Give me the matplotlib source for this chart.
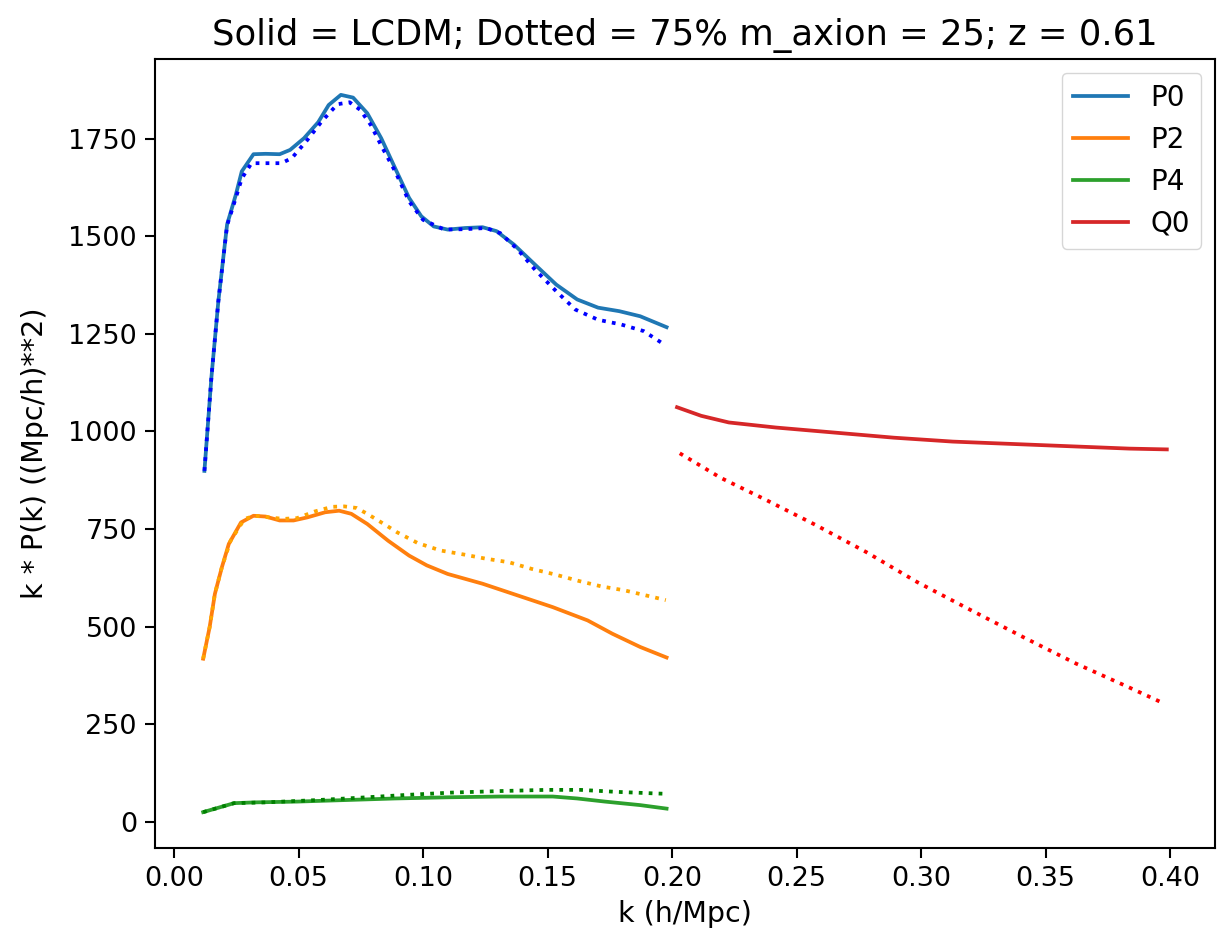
import matplotlib
matplotlib.use("Agg")
import matplotlib.pyplot as plt

title = "Solid = LCDM; Dotted = 75% m_axion = 25; z = 0.61"
xlabel = "k (h/Mpc)"
ylabel = "k * P(k) ((Mpc/h)**2)"

# P0 (LCDM, solid)
k_p0 = [0.0122, 0.0150, 0.0178, 0.0213, 0.0248, 0.0272, 0.0319, 0.0368, 0.0424, 0.0466,
        0.0522, 0.0579, 0.0621, 0.0670, 0.0719, 0.0776, 0.0832, 0.0888, 0.0944, 0.0993,
        0.1043, 0.1099, 0.1169, 0.1239, 0.1295, 0.1366, 0.1450, 0.1535, 0.1619, 0.1703,
        0.1788, 0.1872, 0.1978]
p0 = [899, 1138, 1334, 1530, 1606, 1666, 1710, 1711, 1710, 1721,
      1751, 1792, 1836, 1862, 1855, 1815, 1751, 1674, 1598, 1551,
      1525, 1517, 1521, 1523, 1513, 1478, 1427, 1376, 1338, 1317,
      1308, 1295, 1267]
# P0 (axion, dotted)
k_p0a = [0.0122, 0.0150, 0.0178, 0.0213, 0.0248, 0.0272, 0.0311, 0.0382, 0.0431, 0.0473,
         0.0536, 0.0593, 0.0656, 0.0705, 0.0747, 0.0790, 0.0838, 0.0888, 0.0944, 0.1000,
         0.1085, 0.1169, 0.1253, 0.1310, 0.1380, 0.1450, 0.1535, 0.1612, 0.1703, 0.1795,
         0.1886, 0.1975]
p0a = [899, 1138, 1334, 1528, 1598, 1648, 1687, 1687, 1687, 1700,
       1747, 1794, 1838, 1843, 1824, 1785, 1725, 1666, 1589, 1542,
       1517, 1518, 1521, 1508, 1466, 1414, 1359, 1312, 1286, 1274,
       1257, 1220]

# P2
k_p2 = [0.0117, 0.0143, 0.0164, 0.0192, 0.0220, 0.0269, 0.0319, 0.0368, 0.0424, 0.0480,
        0.0536, 0.0607, 0.0663, 0.0712, 0.0776, 0.0860, 0.0944, 0.1015, 0.1099, 0.1239,
        0.1380, 0.1521, 0.1661, 0.1760, 0.1872, 0.1978]
p2 = [418, 499, 584, 652, 712, 767, 784, 782, 772, 772,
      780, 793, 797, 789, 763, 720, 682, 657, 635, 610,
      580, 550, 516, 482, 448, 421]
k_p2a = [0.0117, 0.0143, 0.0164, 0.0192, 0.0227, 0.0283, 0.0325, 0.0438, 0.0494, 0.0565,
         0.0635, 0.0684, 0.0733, 0.0776, 0.0853, 0.0895, 0.0979, 0.1071, 0.1162, 0.1253,
         0.1345, 0.1436, 0.1528, 0.1626, 0.1717, 0.1809, 0.1949, 0.1975]
p2a = [418, 499, 584, 652, 720, 776, 784, 776, 778, 795,
       807, 808, 804, 789, 759, 742, 714, 695, 685, 674,
       665, 648, 634, 617, 603, 593, 572, 568]

# P4
k_p4 = [0.0117, 0.0171, 0.0241, 0.0325, 0.0494, 0.0691, 0.0888, 0.1099, 0.1310, 0.1521,
        0.1619, 0.1731, 0.1872, 0.1978]
p4 = [25, 35, 48, 50, 52, 56, 60, 63, 65, 65,
      60, 52, 43, 34]
k_p4a = [0.0117, 0.0171, 0.0241, 0.0368, 0.0579, 0.0747, 0.0930, 0.1113, 0.1310, 0.1493,
         0.1633, 0.1774, 0.1928, 0.1975]
p4a = [25, 35, 48, 50, 56, 62, 69, 75, 79, 82,
       82, 77, 73, 72]

# Q0
k_q0 = [0.2020, 0.2117, 0.2228, 0.2417, 0.2654, 0.2891, 0.3127, 0.3364, 0.3600, 0.3837, 0.3987]
q0 = [1062, 1040, 1023, 1010, 997, 984, 974, 968, 962, 956, 954]
k_q0a = [0.2031, 0.2196, 0.2370, 0.2575, 0.2780, 0.2985, 0.3198, 0.3411, 0.3624, 0.3837, 0.3966]
q0a = [944, 881, 827, 761, 691, 614, 543, 473, 405, 344, 306]

fig = plt.figure(figsize=(12.17, 9.41), dpi=100)
ax = fig.add_axes([155 / 1217, 1 - 848 / 941, (1215 - 155) / 1217, (848 - 59) / 941])

lw = 2.7
ax.plot(k_p0, p0, color="tab:blue", lw=lw, label="P0")
ax.plot(k_p2, p2, color="tab:orange", lw=lw, label="P2")
ax.plot(k_p4, p4, color="tab:green", lw=lw, label="P4")
ax.plot(k_q0, q0, color="tab:red", lw=lw, label="Q0")
ax.plot(k_p0a, p0a, color="blue", ls=":", lw=lw)
ax.plot(k_p2a, p2a, color="orange", ls=":", lw=lw)
ax.plot(k_p4a, p4a, color="green", ls=":", lw=lw)
ax.plot(k_q0a, q0a, color="red", ls=":", lw=lw)

ax.set_xticks([0.0, 0.05, 0.10, 0.15, 0.20, 0.25, 0.30, 0.35, 0.40])
ax.set_yticks([0, 250, 500, 750, 1000, 1250, 1500, 1750])
ax.tick_params(labelsize=19.5, length=7, width=1.5, pad=6)
for s in ax.spines.values():
    s.set_linewidth(1.5)
ax.set_title(title, fontsize=25.5, pad=10)
ax.set_xlabel(xlabel, fontsize=20.5, labelpad=6)
ax.set_ylabel(ylabel, fontsize=20.5, labelpad=14)
ax.legend(loc="upper right", fontsize=20, handlelength=2.0)

fig.savefig("out.png", dpi=100)
